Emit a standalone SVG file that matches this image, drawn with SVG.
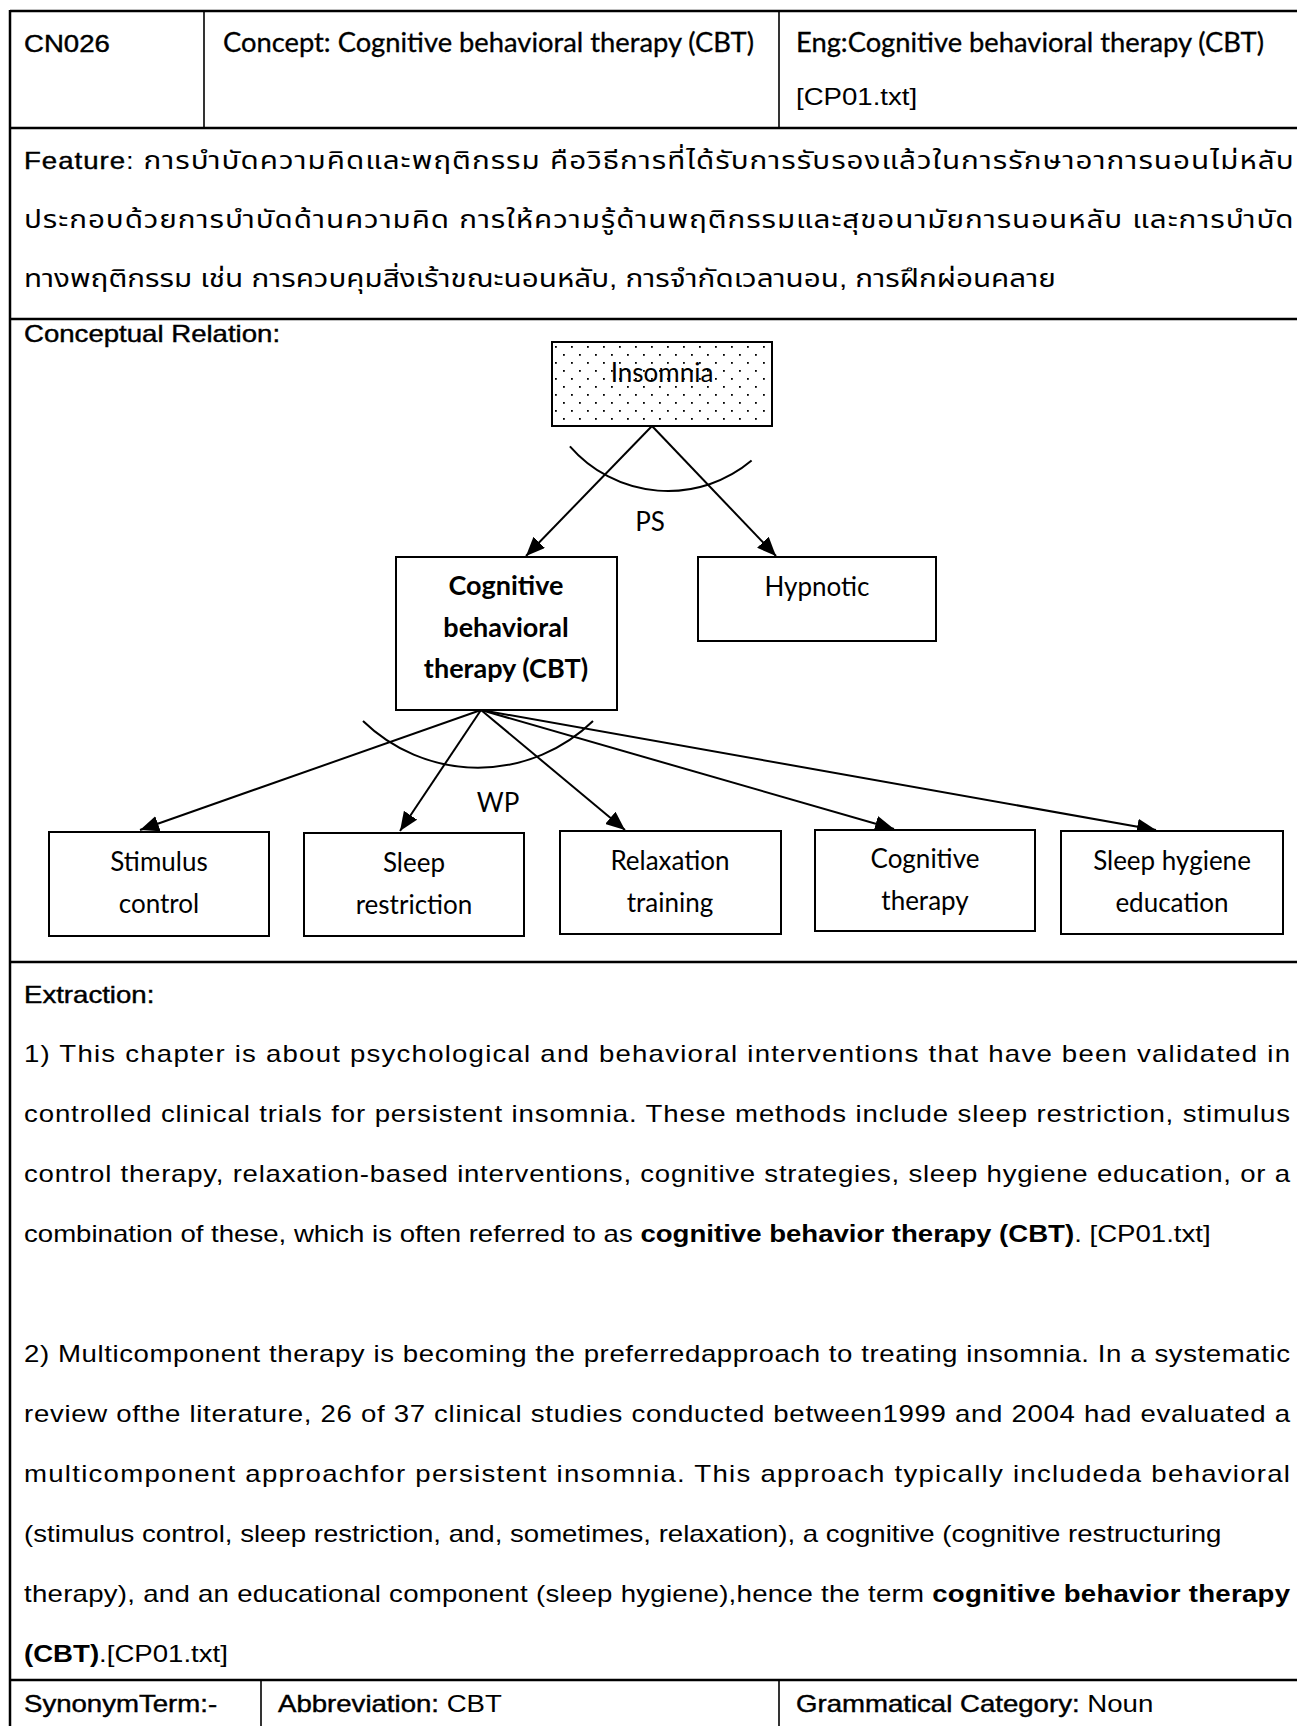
<svg xmlns="http://www.w3.org/2000/svg" width="1297" height="1726" viewBox="0 0 1297 1726">
  <defs>
    <style>
      .t { font-family: "Liberation Sans", Arial, "Noto Sans Thai", "Noto Sans", sans-serif; font-size: 23px; fill: #000; }
      .th { font-size: 24.7px; }
      .en { font-size: 23px; }
      .lb { stroke: #000; stroke-width: 0.4px; }
      .hd { stroke: #000; stroke-width: 0.3px; }
      .b { font-weight: bold; }
      .c { font-family: Lato, "Open Sans", sans-serif; font-size: 26px; fill: #000; }
      .cb { font-family: Lato, "Open Sans", sans-serif; font-size: 27px; font-weight: bold; fill: #000; }
      .mid { text-anchor: middle; }
      .grid { stroke: #000; stroke-width: 2.5; fill: none; }
      .div { stroke: #000; stroke-width: 1.6; fill: none; }
      .box { fill: #fff; stroke: #000; stroke-width: 2; }
      .link { stroke: #000; stroke-width: 2; fill: none; marker-end: url(#arrow); }
      .arc { stroke: #000; stroke-width: 2; fill: none; }
    </style>
    <marker id="arrow" markerUnits="userSpaceOnUse" markerWidth="20" markerHeight="16" refX="19" refY="8" orient="auto">
      <path d="M0,0 L19,8 L0,16 z" fill="#000"/>
    </marker>
    <pattern id="dots" patternUnits="userSpaceOnUse" x="552" y="342" width="16" height="16">
      <rect width="16" height="16" fill="#fff"/>
      <rect x="3" y="4" width="1.8" height="1.8" fill="#000"/>
      <rect x="11" y="12" width="1.8" height="1.8" fill="#000"/>
    </pattern>
  </defs>

  <rect width="1297" height="1726" fill="#fff"/>

  <!-- table frame -->
  <g id="table">
    <line class="grid" x1="10" y1="11" x2="1297" y2="11"/>
    <line class="grid" x1="10" y1="10" x2="10" y2="1726"/>
    <line class="grid" x1="10" y1="128" x2="1297" y2="128"/>
    <line class="grid" x1="10" y1="319" x2="1297" y2="319"/>
    <line class="grid" x1="10" y1="962" x2="1297" y2="962"/>
    <line class="grid" x1="10" y1="1680" x2="1297" y2="1680"/>
    <line class="div" x1="204" y1="11" x2="204" y2="128"/>
    <line class="div" x1="779" y1="11" x2="779" y2="128"/>
    <line class="div" x1="261" y1="1680" x2="261" y2="1726"/>
    <line class="div" x1="779" y1="1680" x2="779" y2="1726"/>
  </g>

  <!-- header row -->
  <g id="header">
    <text class="t lb" transform="translate(24,52) scale(1.2,1)">CN026</text>
    <text class="c hd" x="223" y="52" textLength="531" lengthAdjust="spacingAndGlyphs">Concept:  Cognitive behavioral therapy (CBT)</text>
    <text class="c hd" x="796" y="52" textLength="468" lengthAdjust="spacingAndGlyphs">Eng:Cognitive behavioral therapy (CBT)</text>
    <text class="t" transform="translate(796,105) scale(1.2,1)">[CP01.txt]</text>
  </g>

  <!-- feature row -->
  <g id="feature">
    <text class="t th" transform="translate(24,169) scale(1.2,1)" textLength="1058" lengthAdjust="spacing"><tspan class="lb en">Feature</tspan><tspan class="en">: </tspan>การบำบัดความคิดและพฤติกรรม คือวิธีการที่ได้รับการรับรองแล้วในการรักษาอาการนอนไม่หลับ</text>
    <text class="t th" transform="translate(24,228) scale(1.2,1)" textLength="1058" lengthAdjust="spacing">ประกอบด้วยการบำบัดด้านความคิด การให้ความรู้ด้านพฤติกรรมและสุขอนามัยการนอนหลับ และการบำบัด</text>
    <text class="t th" transform="translate(24,287) scale(1.2,1)">ทางพฤติกรรม เช่น การควบคุมสิ่งเร้าขณะนอนหลับ, การจำกัดเวลานอน, การฝึกผ่อนคลาย</text>
  </g>

  <text class="t lb" transform="translate(24,342) scale(1.2,1)">Conceptual Relation:</text>

  <!-- connectors -->
  <g id="connectors">
    <line class="link" x1="652" y1="426" x2="526" y2="556"/>
    <line class="link" x1="652" y1="426" x2="776" y2="556"/>
    <path class="arc" d="M569.9,446.3 A130,130 0 0 0 751.6,460.6"/>
    <text class="c mid" x="650" y="531">PS</text>

    <line class="link" x1="481" y1="710" x2="140" y2="830"/>
    <line class="link" x1="481" y1="710" x2="400" y2="831"/>
    <line class="link" x1="481" y1="710" x2="625" y2="830"/>
    <line class="link" x1="481" y1="710" x2="894" y2="829"/>
    <line class="link" x1="481" y1="710" x2="1156" y2="830"/>
    <path class="arc" d="M363,721 A165,165 0 0 0 593,721"/>
    <text class="c mid" x="498" y="812">WP</text>
  </g>

  <!-- nodes -->
  <g id="n-insomnia">
    <rect x="552" y="342" width="220" height="84" fill="url(#dots)" stroke="#000" stroke-width="2"/>
    <text class="c mid" x="662" y="382">Insomnia</text>
  </g>
  <g id="n-cbt">
    <rect class="box" x="396" y="557" width="221" height="153"/>
    <text class="cb mid" x="506" y="595">Cognitive</text>
    <text class="cb mid" x="506" y="637">behavioral</text>
    <text class="cb mid" x="506" y="678">therapy (CBT)</text>
  </g>
  <g id="n-hypnotic">
    <rect class="box" x="698" y="557" width="238" height="84"/>
    <text class="c mid" x="817" y="596">Hypnotic</text>
  </g>
  <g id="n-stimulus">
    <rect class="box" x="49" y="832" width="220" height="104"/>
    <text class="c mid" x="159" y="871">Stimulus</text>
    <text class="c mid" x="159" y="913">control</text>
  </g>
  <g id="n-sleep-restriction">
    <rect class="box" x="304" y="833" width="220" height="103"/>
    <text class="c mid" x="414" y="872">Sleep</text>
    <text class="c mid" x="414" y="914">restriction</text>
  </g>
  <g id="n-relaxation">
    <rect class="box" x="560" y="831" width="221" height="103"/>
    <text class="c mid" x="670" y="870">Relaxation</text>
    <text class="c mid" x="670" y="912">training</text>
  </g>
  <g id="n-cognitive-therapy">
    <rect class="box" x="815" y="830" width="220" height="101"/>
    <text class="c mid" x="925" y="868">Cognitive</text>
    <text class="c mid" x="925" y="910">therapy</text>
  </g>
  <g id="n-sleep-hygiene">
    <rect class="box" x="1061" y="831" width="222" height="103"/>
    <text class="c mid" x="1172" y="870">Sleep hygiene</text>
    <text class="c mid" x="1172" y="912">education</text>
  </g>

  <!-- extraction row -->
  <g id="extraction">
    <text class="t lb" transform="translate(24,1003) scale(1.2,1)">Extraction:</text>
    <text class="t" transform="translate(24,1062) scale(1.2,1)" textLength="1055" lengthAdjust="spacing">1) This chapter is about psychological and behavioral interventions that have been validated in</text>
    <text class="t" transform="translate(24,1122) scale(1.2,1)" textLength="1055" lengthAdjust="spacing">controlled clinical trials for persistent insomnia. These methods include sleep restriction, stimulus</text>
    <text class="t" transform="translate(24,1182) scale(1.2,1)" textLength="1055" lengthAdjust="spacing">control therapy, relaxation-based interventions, cognitive strategies, sleep hygiene education, or a</text>
    <text class="t" transform="translate(24,1242) scale(1.2,1)">combination of these, which is often referred to as <tspan class="b">cognitive behavior therapy (CBT)</tspan>. [CP01.txt]</text>
    <text class="t" transform="translate(24,1362) scale(1.2,1)" textLength="1055" lengthAdjust="spacing">2) Multicomponent therapy is becoming the preferredapproach to treating insomnia. In a systematic</text>
    <text class="t" transform="translate(24,1422) scale(1.2,1)" textLength="1055" lengthAdjust="spacing">review ofthe literature, 26 of 37 clinical studies conducted between1999 and 2004 had evaluated a</text>
    <text class="t" transform="translate(24,1482) scale(1.2,1)" textLength="1055" lengthAdjust="spacing">multicomponent approachfor persistent insomnia. This approach typically includeda behavioral</text>
    <text class="t" transform="translate(24,1542) scale(1.2,1)">(stimulus control, sleep restriction, and, sometimes, relaxation), a cognitive (cognitive restructuring</text>
    <text class="t" transform="translate(24,1602) scale(1.2,1)" textLength="1055" lengthAdjust="spacing">therapy), and an educational component (sleep hygiene),hence the term <tspan class="b">cognitive behavior therapy</tspan></text>
    <text class="t" transform="translate(24,1662) scale(1.2,1)"><tspan class="b">(CBT)</tspan>.[CP01.txt]</text>
  </g>

  <!-- bottom row -->
  <g id="footer">
    <text class="t lb" transform="translate(24,1712) scale(1.2,1)">SynonymTerm:-</text>
    <text class="t" transform="translate(278,1712) scale(1.2,1)"><tspan class="lb">Abbreviation:</tspan> CBT</text>
    <text class="t" transform="translate(796,1712) scale(1.2,1)"><tspan class="lb">Grammatical Category:</tspan> Noun</text>
  </g>
</svg>
